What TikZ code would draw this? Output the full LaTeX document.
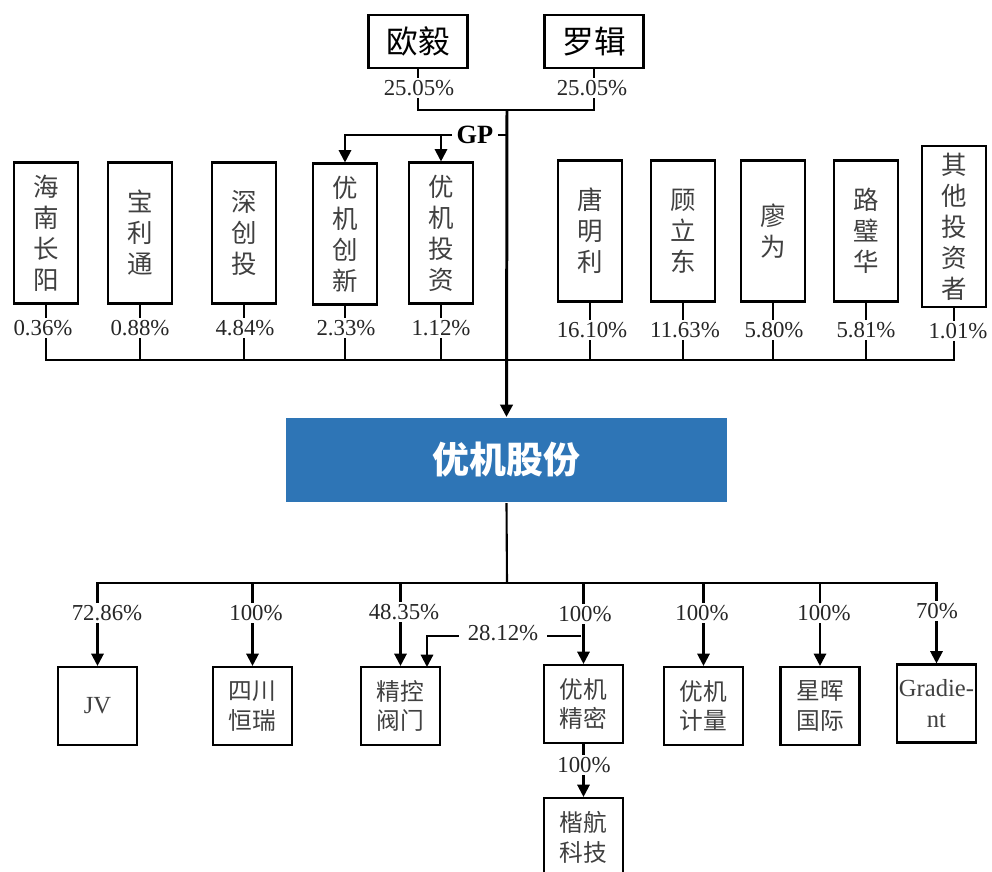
\documentclass[tikz,border=0pt]{standalone}
\usepackage{fontspec}
\usepackage{tikz}
\usepackage{xcolor}
\usetikzlibrary{arrows.meta}
\setmainfont{Liberation Serif}
\newfontfamily\cjk{Noto Sans CJK SC}
\definecolor{yjblue}{RGB}{46,117,182}

\begin{document}
\begin{tikzpicture}[x=0.02cm, y=-0.02cm, line width=1.2pt,
        >={Triangle[length=7pt, width=7pt]},
        holder/.style={draw, rectangle, minimum width=1.28cm, minimum height=2.82cm, inner sep=0pt,
            align=center, text=black!75, font=\cjk\fontsize{14.5}{17.6}\selectfont},
        owner/.style={draw, rectangle, minimum width=1.98cm, minimum height=1.06cm, inner sep=0pt,
            font=\cjk\fontsize{18}{20}\selectfont},
        sub/.style={draw, rectangle, minimum width=1.58cm, minimum height=1.56cm, inner sep=0pt,
            align=center, text=black!75, font=\cjk\fontsize{13.5}{17}\selectfont},
        pct/.style={fill=white, inner sep=1.5pt, text=black!85, font=\fontsize{13}{15}\selectfont}]
    \useasboundingbox (0, 0) rectangle (992, 872);

    \node (ouyi)  at (418, 41.5) [owner] {欧毅};
    \node (luoji) at (594, 41.5) [owner] {罗辑};
    \node (gp)    at (475, 135) [inner sep=2pt, font=\bfseries\fontsize{15}{17}\selectfont] {GP};

    \node (hnzy) at ( 46, 233) [holder] {海\\南\\长\\阳};
    \node (blt)  at (140, 233) [holder] {宝\\利\\通};
    \node (sct)  at (244, 233) [holder] {深\\创\\投};
    \node (yjcx) at (345, 234) [holder] {优\\机\\创\\新};
    \node (yjtz) at (441, 233) [holder] {优\\机\\投\\资};
    \node (tml)  at (590, 231) [holder] {唐\\明\\利};
    \node (gld)  at (683, 231) [holder] {顾\\立\\东};
    \node (lw)   at (773, 231) [holder] {廖\\为};
    \node (lbh)  at (866, 231) [holder] {路\\璧\\华};
    \node (qt)   at (954, 226.5) [holder, minimum height=3.22cm] {其\\他\\投\\资\\者};

    \node (yjgf) at (506.5, 460) [rectangle, fill=yjblue, minimum width=8.82cm, minimum height=1.68cm,
        text=white, font=\cjk\bfseries\fontsize{21}{23}\selectfont] {优机股份};

    \node (jv)   at ( 97.5, 706) [sub, font=\rmfamily\fontsize{14}{17}\selectfont] {JV};
    \node (schr) at (252.5, 706) [sub] {四川\\恒瑞};
    \node (jkfm) at (400.5, 706) [sub] {精控\\阀门};
    \node (yjjm) at (583.5, 704) [sub] {优机\\精密};
    \node (yjjl) at (703.5, 706) [sub] {优机\\计量};
    \node (xhgj) at (820,   706) [sub] {星晖\\国际};
    \node (grad) at (936.5, 703.5) [sub, font=\rmfamily\fontsize{14}{18}\selectfont] {Gradie-\\nt};
    \node (khkj) at (583.5, 837) [sub] {楷航\\科技};

    \coordinate (topbus) at (507, 110);
    \coordinate (midbus) at (507, 360);
    \coordinate (botbus) at (507, 583);
    \coordinate (link)   at (581, 636);
    \coordinate (jkin)   at (427, 667);

    \draw (ouyi.south) |- (topbus);
    \draw (luoji.south) |- (topbus);
    \draw[->, line width=1.7pt] (topbus) -- (yjgf.north);
    \draw (gp.east) -- (gp.east -| topbus);
    \draw[->] (gp.west) -| (yjcx.north);
    \draw[->] (gp.west -| yjtz.north) -- (yjtz.north);

    \foreach \n in {hnzy, blt, sct, yjcx, yjtz, tml, gld, lw, lbh, qt}
        \draw (\n.south) |- (midbus);

    \draw (yjgf.south) -- (botbus);
    \foreach \n in {jv, schr, jkfm, yjjm, yjjl, xhgj, grad}
        \draw[->] (botbus) -| (\n.north);
    \draw[->] (link) -| (jkin);
    \draw[->] (yjjm.south) -- (khkj.north);

    \node (p0a) at (419, 88) [pct] {25.05\%};
    \node (p0b) at (592, 88) [pct] {25.05\%};

    \node (p1)  at ( 43, 328) [pct] {0.36\%};
    \node (p2)  at (140, 328) [pct] {0.88\%};
    \node (p3)  at (245, 328) [pct] {4.84\%};
    \node (p4)  at (346, 328) [pct] {2.33\%};
    \node (p5)  at (441, 328) [pct] {1.12\%};
    \node (p6)  at (592, 330) [pct] {16.10\%};
    \node (p7)  at (685, 330) [pct] {11.63\%};
    \node (p8)  at (774, 330) [pct] {5.80\%};
    \node (p9)  at (866, 330) [pct] {5.81\%};
    \node (p10) at (958, 331) [pct] {1.01\%};

    \node (q1) at (107,   613) [pct] {72.86\%};
    \node (q2) at (256,   613) [pct] {100\%};
    \node (q3) at (404,   612) [pct] {48.35\%};
    \node (q4) at (585,   614) [pct] {100\%};
    \node (q5) at (702,   613) [pct] {100\%};
    \node (q6) at (824,   613) [pct] {100\%};
    \node (q7) at (937,   611) [pct] {70\%};
    \node (q8) at (503,   633) [pct, inner xsep=5pt] {28.12\%};
    \node (q9) at (584,   765) [pct] {100\%};
\end{tikzpicture}
\end{document}
